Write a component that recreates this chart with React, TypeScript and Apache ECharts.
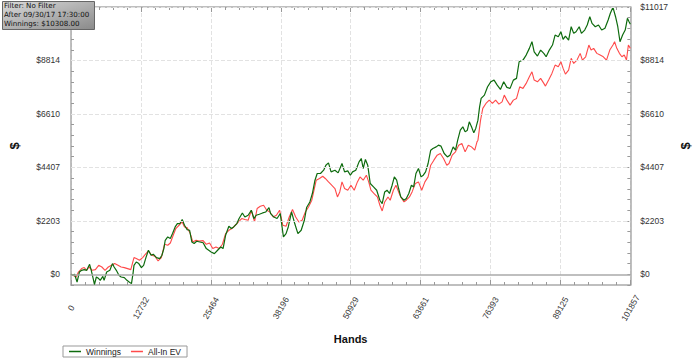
import React, { useEffect, useRef } from "react";
import * as echarts from "echarts";

const seriesNames = ["Winnings", "All-In EV"];
const infoLines = ["Filter: No Filter", "After 09/30/17 17:30:00", "Winnings: $10308.00"];
const HANDS_MAX = 101857;
const X_DIVISIONS = 8;
const DOLLAR_MAX = 11017;
const Y_DIVISIONS = 5;
const Y_MINOR_SPLIT = 5;

const winHands = [
  0, 351, 650, 1106, 1528, 1932, 2406, 2862, 3389, 3688,
  4039, 4267, 4618, 5040, 5321, 5795, 6023, 6497, 7077, 7551,
  7849, 8253, 8727, 9131, 9711, 10185, 10589, 11010, 11291, 11467,
  11888, 12345, 12819, 13223, 13644, 14101, 14575, 14979, 15576, 16155,
  16559, 16910, 17156, 17613, 18087, 18491, 18965, 19369, 19843, 20247,
  20668, 21125, 21599, 22003, 22424, 22881, 23478, 24057, 24637, 25515,
  26112, 26691, 27271, 27692, 28149, 28746, 29202, 29624, 30203, 30607,
  31204, 31661, 32258, 32837, 33311, 33715, 34295, 34892, 35471, 36050,
  36349, 36929, 37526, 38105, 38685, 39159, 39563, 40160, 40739, 41319,
  41916, 42495, 42899, 43496, 43953, 44427, 44831, 45428, 46007, 46411,
  46885, 47359, 48062, 48641, 49344, 49818, 50397, 50871, 51275, 51855,
  52452, 52856, 53207, 53611, 54032, 54489, 55086, 55665, 56245, 56666,
  57123, 57545, 58001, 58475, 58879, 59301, 59652, 60055, 60635, 61056,
  61513, 61987, 62391, 62812, 63269, 63743, 64147, 64568, 65025, 65499,
  65903, 66500, 66904, 67378, 67957, 68537, 69011, 69591, 70012, 70416,
  70890, 71346, 71768, 72172, 72523, 72927, 73348, 73699, 74103, 74402,
  74683, 75280, 75859, 76439, 77036, 77615, 78195, 78792, 79371, 79951,
  80548, 81127, 81601, 82304, 82883, 83463, 83937, 84341, 84938, 85517,
  86097, 86518, 87098, 87677, 88151, 88731, 89205, 89609, 90030, 90610,
  91084, 91541, 91962, 92541, 92945, 93542, 94000, 94473, 94877, 95474,
  96053, 96633, 97230, 97809, 98213, 98687, 99161, 99565, 99969, 100443,
  100917, 101321, 101620, 101857,
];

const winValues = [
  0, -41, 0, -318, 95, 165, 194, 165, 413, 165,
  -177, -420, -111, -177, -248, -83, -248, 95, 165, 441,
  301, 165, -41, -111, -136, -248, -318, -384, 29, 371,
  507, 441, 276, 371, 689, 990, 784, 825, 689, 648,
  784, 1060, 1403, 1539, 1473, 1679, 1952, 2092, 2092, 2257,
  2022, 1844, 1815, 1333, 1267, 1362, 1333, 1300, 1060, 920,
  854, 990, 1126, 1060, 1609, 1980, 1886, 1952, 2092, 2298,
  2529, 2364, 2434, 2641, 2298, 2434, 2476, 2529, 2570, 2752,
  2504, 2364, 2298, 2504, 1539, 1679, 1952, 2570, 2092, 1679,
  1815, 2228, 2752, 2983, 3330, 3878, 4155, 4155, 4291, 4497,
  4592, 4221, 4291, 4180, 4567, 4221, 4262, 4085, 4221, 4291,
  4634, 4774, 4361, 4733, 4497, 3742, 3602, 3466, 3053, 2917,
  3396, 3466, 3330, 3672, 4015, 3878, 3536, 3189, 3053, 3123,
  3330, 3672, 3602, 4155, 4361, 4015, 4085, 4221, 4567, 5116,
  5186, 5252, 5323, 5281, 4980, 4840, 4910, 5252, 5116, 5529,
  5941, 6078, 5871, 5941, 6284, 6078, 5830, 6012, 6354, 6903,
  7249, 7386, 7728, 7934, 8004, 7798, 7621, 7934, 7703, 7662,
  8004, 8075, 8760, 8830, 9036, 9312, 9585, 9172, 8995, 9242,
  9106, 8966, 9242, 9449, 9861, 9791, 9997, 9684, 9820, 9654,
  10204, 9931, 9997, 10204, 9931, 10067, 10274, 10616, 10344, 10204,
  10274, 10067, 10138, 10480, 10757, 11004, 10616, 10204, 9585, 9861,
  10067, 10550, 10410, 10308,
];

const evHands = [
  0, 351, 931, 1352, 1932, 2406, 2862, 3284, 3863, 4443,
  5040, 5619, 6199, 6796, 7375, 7955, 8552, 9131, 9711, 10308,
  10887, 11467, 11888, 12468, 13047, 13644, 14101, 14698, 15277, 15857,
  16454, 17033, 17613, 18087, 18491, 19088, 19667, 20247, 20668, 21125,
  21722, 22178, 22775, 23355, 24057, 24637, 25234, 25813, 26393, 26990,
  27569, 28149, 28746, 29325, 29904, 30502, 31081, 31661, 32258, 32837,
  33417, 33891, 34470, 35067, 35647, 36226, 36823, 37403, 37982, 38579,
  39159, 39739, 40336, 40915, 41494, 42091, 42671, 43250, 43847, 44251,
  44655, 45252, 45832, 46306, 46885, 47465, 48062, 48519, 48940, 49344,
  49818, 50397, 50977, 51574, 52153, 52627, 53207, 53786, 54208, 54612,
  55191, 55789, 56245, 56666, 57123, 57720, 58124, 58703, 59177, 59652,
  60055, 60635, 61056, 61636, 62110, 62689, 63269, 63866, 64445, 65025,
  65499, 66078, 66676, 67255, 67835, 68432, 68835, 69415, 70012, 70591,
  71171, 71768, 72347, 72927, 73524, 73928, 74103, 74577, 74981, 75561,
  76158, 76737, 77317, 77914, 78493, 78897, 79371, 79951, 80548, 81127,
  81707, 82304, 82883, 83463, 83937, 84341, 84938, 85517, 86097, 86395,
  86975, 87572, 88151, 88731, 89205, 89609, 90030, 90610, 91084, 91541,
  92138, 92717, 93121, 93718, 94297, 94701, 95175, 95754, 96351, 96931,
  97511, 98108, 98687, 98985, 99389, 99863, 100320, 100741, 101145, 101496,
  101857,
];

const evValues = [
  0, -41, -111, 95, 235, 276, 165, 301, 165, 194,
  371, 301, 165, 301, 371, 441, 371, 301, 276, 235,
  194, 689, 648, 578, 689, 854, 961, 784, 743, 549,
  689, 1238, 1197, 1291, 1539, 1886, 2022, 2158, 1952, 1927,
  1679, 1333, 1403, 1374, 1390, 1238, 1291, 1060, 1126, 1060,
  1238, 1679, 1815, 1886, 2022, 2158, 2298, 2257, 2228, 2641,
  2158, 2711, 2806, 2847, 2641, 2570, 2364, 2434, 2641, 2022,
  1980, 2364, 2669, 2364, 2158, 2228, 2570, 2777, 3053, 3466,
  3878, 3949, 4043, 3949, 3808, 3672, 3536, 3189, 3396, 3808,
  3536, 3466, 3672, 3466, 3808, 4015, 3878, 4085, 3808, 3466,
  3330, 3189, 2847, 2612, 2983, 3189, 3053, 3466, 3672, 3396,
  3189, 2983, 3053, 3189, 3396, 3742, 3808, 3466, 3808, 4015,
  4497, 4704, 4910, 4980, 4774, 4497, 4567, 4910, 5046, 5323,
  5393, 5046, 5323, 5252, 5116, 5459, 5529, 6354, 6837, 7043,
  7179, 7043, 7179, 7014, 7109, 7385, 7179, 6973, 7179, 7249,
  7728, 7662, 7868, 8141, 8347, 8004, 7934, 8075, 7868, 7757,
  8004, 8281, 8623, 8553, 8760, 8487, 8252, 8417, 8900, 8693,
  8830, 9106, 8830, 8966, 9449, 9242, 9312, 9106, 9036, 8966,
  8830, 9242, 9449, 9585, 9312, 9106, 8966, 9036, 8830, 9449,
  9312,
];

const FONT = "Liberation Sans";
const GREEN = "#0e6b0e";
const RED = "#ff4a4a";

export default function App() {
  const ref = useRef<HTMLDivElement>(null);

  useEffect(() => {
    if (!ref.current) return;
    const chart = echarts.init(ref.current, null, { renderer: "svg" });

    const xInterval = HANDS_MAX / X_DIVISIONS;
    const yMajor = DOLLAR_MAX / Y_DIVISIONS;
    const yMinor = yMajor / Y_MINOR_SPLIT;
    const yMin = -yMinor;
    const majors: number[] = [];
    for (let i = 1; i <= Y_DIVISIONS; i++) majors.push(yMajor * i);
    const isMajor = (v: number) =>
      v > -1 && Math.abs(v / yMajor - Math.round(v / yMajor)) < 0.01;

    // left axis: the top label sits under the info box in the reference
    const yAxis = (position: string, nameGap: number, margin: number, showTop: boolean) => ({
      type: "value",
      position,
      min: yMin,
      max: DOLLAR_MAX,
      interval: yMinor,
      name: "$",
      nameLocation: "middle",
      nameGap,
      nameRotate: 90,
      nameTextStyle: { fontWeight: "bold", fontSize: 13, color: "#111", fontFamily: FONT },
      axisLine: { show: true, onZero: false, lineStyle: { color: "#aaaaaa", width: 1.5 } },
      axisTick: { show: true, inside: true, length: 3, lineStyle: { color: "#999999" } },
      axisLabel: {
        formatter: (v: number) =>
          isMajor(v) && (showTop || v < DOLLAR_MAX - 1) ? "$" + Math.round(v) : "",
        fontSize: 8.5,
        color: "#333",
        margin,
        fontFamily: FONT,
      },
      splitLine: { show: false },
    });

    const xAxis = (position: string, withLabels: boolean) => ({
      type: "value",
      position,
      min: 0,
      max: HANDS_MAX,
      interval: xInterval,
      name: withLabels ? "Hands" : "",
      nameLocation: "middle",
      nameGap: 48,
      nameTextStyle: { fontWeight: "bold", fontSize: 11, color: "#111", fontFamily: FONT },
      axisLine: { show: true, onZero: false, lineStyle: { color: "#aaaaaa", width: 1.5 } },
      axisTick: { show: true, inside: true, length: 5, lineStyle: { color: "#999999" } },
      minorTick: { show: true, splitNumber: 5, length: 3, lineStyle: { color: "#999999" } },
      axisLabel: withLabels
        ? {
            formatter: (v: number) => String(Math.round(v)),
            rotate: 60,
            align: "center",
            verticalAlign: "middle",
            margin: 23,
            fontSize: 8.5,
            color: "#333",
            fontFamily: FONT,
          }
        : { show: false },
      splitLine: withLabels
        ? { show: true, lineStyle: { color: "#e2e2e2", type: "dashed", width: 1 } }
        : { show: false },
    });

    chart.setOption({
      animation: false,
      backgroundColor: "#ffffff",
      grid: { left: 63, right: 57, top: 7, bottom: 75, containLabel: false },
      xAxis: [xAxis("bottom", true), xAxis("top", false)],
      yAxis: [yAxis("left", 50, 11, false), yAxis("right", 48, 10, true)],
      legend: {
        data: seriesNames.map((n) => ({ name: n, icon: "rect" })),
        left: 63,
        top: 346,
        orient: "horizontal",
        itemWidth: 12,
        itemHeight: 1.5,
        itemGap: 10,
        padding: [1, 6],
        borderColor: "#999999",
        borderWidth: 1,
        textStyle: { fontSize: 8.5, color: "#222", fontFamily: FONT, lineHeight: 9 },
      },
      graphic: [
        {
          type: "rect",
          left: 2,
          top: 1,
          z: 100,
          shape: { width: 92, height: 28 },
          style: {
            fill: new echarts.graphic.LinearGradient(0, 0, 1, 1, [
              { offset: 0, color: "#dadada" },
              { offset: 1, color: "#8a8a8a" },
            ]),
            stroke: "#666666",
            lineWidth: 1,
          },
        },
        ...infoLines.map((t, i) => ({
          type: "text",
          left: 4,
          top: 1.5 + i * 9,
          z: 101,
          style: {
            text: t,
            fontSize: 7.1,
            fill: "#111",
            fontFamily: "DejaVu Sans",
          },
        })),
      ],
      series: [
        {
          name: "_grid",
          type: "line",
          data: [],
          symbol: "none",
          z: 1,
          silent: true,
          markLine: {
            silent: true,
            symbol: ["none", "none"],
            label: { show: false },
            animation: false,
            data: [
              ...majors.map((v) => ({
                yAxis: v,
                lineStyle: { type: "dashed", color: "#e2e2e2", width: 1 },
              })),
              { yAxis: 0, lineStyle: { type: "solid", color: "#aaaaaa", width: 1.5 } },
            ],
          },
        },
        {
          name: seriesNames[1],
          type: "line",
          data: evHands.map((h, i) => [h, evValues[i]]),
          symbol: "none",
          z: 3,
          lineStyle: { color: RED, width: 1.1 },
          itemStyle: { color: RED },
        },
        {
          name: seriesNames[0],
          type: "line",
          data: winHands.map((h, i) => [h, winValues[i]]),
          symbol: "none",
          z: 4,
          lineStyle: { color: GREEN, width: 1.2 },
          itemStyle: { color: GREEN },
        },
      ],
    });

    return () => chart.dispose();
  }, []);

  return (
    <div
      ref={ref}
      style={{ position: "fixed", left: 0, top: 0, width: 700, height: 360, background: "#fff" }}
    />
  );
}
